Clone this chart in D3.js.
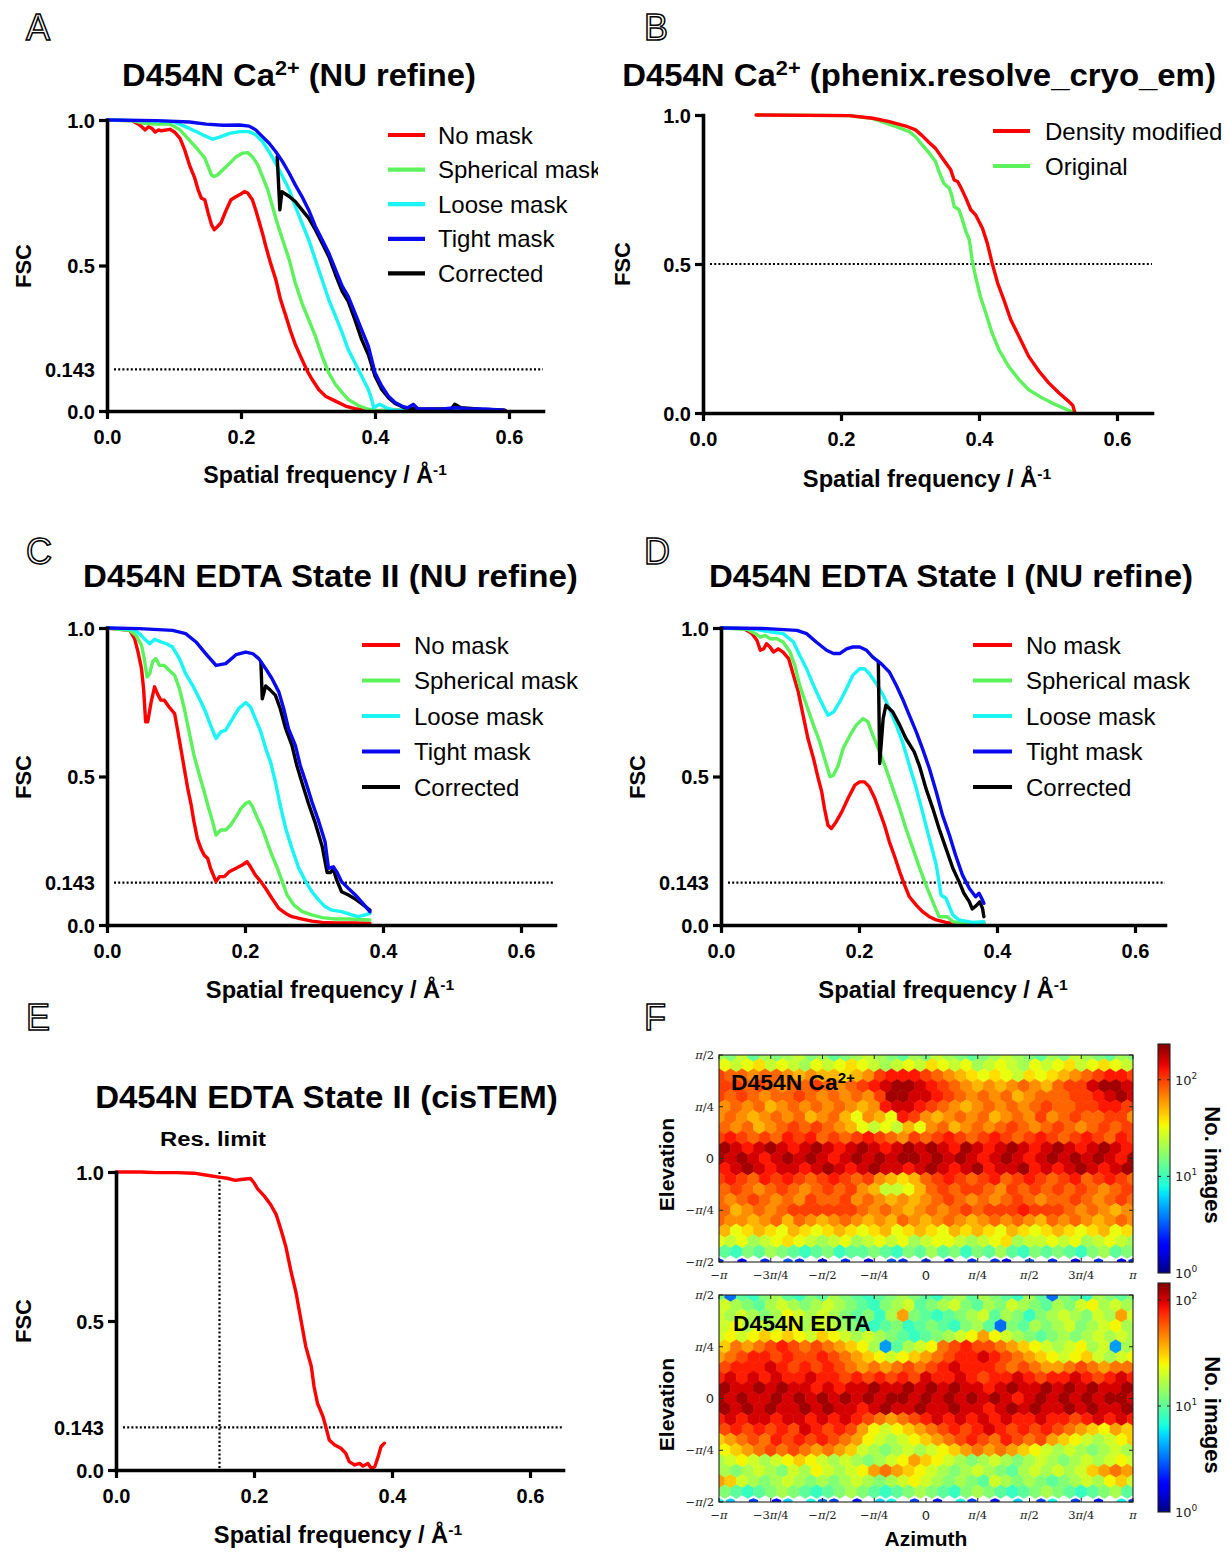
<!DOCTYPE html>
<html>
<head>
<meta charset="utf-8">
<script src="https://cdn.jsdelivr.net/npm/d3@7"></script>
<style>
  body { margin: 0; background: #fff; }
  svg { display: block; }
</style>
</head>
<body>
<svg id="fig" width="1229" height="1553"></svg>
<script>
// ---------- axis ticks and labels ----------
const freqTicks = [0, 0.2, 0.4, 0.6];
const freqTickText = ["0.0", "0.2", "0.4", "0.6"];
const fscLabelValues = [0, 0.143, 0.5, 1];
const fscLabelText = ["0.0", "0.143", "0.5", "1.0"];
const fscLabelValuesB = [0, 0.5, 1];
const fscLabelTextB = ["0.0", "0.5", "1.0"];
const maskNames = ["No mask", "Spherical mask", "Loose mask", "Tight mask", "Corrected"];
const dmNames = ["Density modified", "Original"];

// ---------- A: D454N Ca2+ (NU refine) ----------
const caNoMask = [[0,1],[0.037,0.998],[0.049,0.983],[0.057,0.966],[0.062,0.977],[0.067,0.971],[0.072,0.958],[0.077,0.966],[0.081,0.963],[0.094,0.968],[0.101,0.958],[0.109,0.937],[0.116,0.897],[0.123,0.846],[0.131,0.800],[0.136,0.760],[0.141,0.731],[0.146,0.726],[0.151,0.680],[0.156,0.640],[0.160,0.623],[0.165,0.634],[0.170,0.646],[0.178,0.691],[0.185,0.726],[0.193,0.737],[0.200,0.746],[0.205,0.754],[0.210,0.749],[0.217,0.726],[0.222,0.691],[0.227,0.651],[0.232,0.611],[0.237,0.566],[0.244,0.509],[0.252,0.451],[0.259,0.383],[0.267,0.326],[0.274,0.274],[0.281,0.229],[0.291,0.177],[0.299,0.137],[0.306,0.109],[0.316,0.074],[0.326,0.051],[0.341,0.034],[0.356,0.017],[0.370,0.008],[0.385,0.003],[0.400,0.001],[0.43,0.003],[0.46,0.001],[0.49,0.004],[0.52,0.002],[0.55,0.003],[0.575,0.001],[0.595,0.002]];
const caSpherical = [[0,1],[0.040,0.997],[0.054,0.989],[0.074,0.986],[0.094,0.986],[0.109,0.966],[0.123,0.931],[0.136,0.897],[0.146,0.869],[0.151,0.840],[0.156,0.811],[0.160,0.806],[0.165,0.811],[0.173,0.829],[0.183,0.851],[0.193,0.874],[0.202,0.886],[0.210,0.888],[0.217,0.874],[0.225,0.846],[0.232,0.806],[0.240,0.760],[0.247,0.703],[0.254,0.646],[0.262,0.589],[0.272,0.520],[0.281,0.440],[0.291,0.371],[0.301,0.314],[0.311,0.257],[0.321,0.189],[0.331,0.131],[0.341,0.091],[0.351,0.063],[0.360,0.040],[0.375,0.019],[0.390,0.006],[0.405,0.001],[0.44,0.004],[0.47,0.002],[0.50,0.005],[0.53,0.002],[0.56,0.003]];
const caLoose = [[0,1],[0.049,0.998],[0.099,0.994],[0.123,0.971],[0.143,0.949],[0.158,0.934],[0.168,0.941],[0.183,0.954],[0.198,0.960],[0.212,0.960],[0.222,0.949],[0.232,0.926],[0.242,0.891],[0.252,0.851],[0.262,0.806],[0.272,0.760],[0.281,0.703],[0.291,0.646],[0.301,0.589],[0.311,0.520],[0.321,0.451],[0.331,0.383],[0.341,0.326],[0.351,0.269],[0.360,0.211],[0.370,0.166],[0.380,0.120],[0.390,0.074],[0.395,0.040],[0.398,0.011],[0.407,0.023],[0.417,0.011],[0.430,0.002],[0.46,0.006],[0.49,0.002],[0.52,0.007],[0.55,0.002],[0.58,0.004]];
const caTight = [[0,1],[0.074,0.998],[0.123,0.993],[0.148,0.986],[0.173,0.982],[0.198,0.983],[0.212,0.979],[0.222,0.966],[0.232,0.943],[0.242,0.920],[0.252,0.891],[0.262,0.857],[0.272,0.817],[0.281,0.777],[0.291,0.737],[0.301,0.691],[0.311,0.634],[0.321,0.589],[0.331,0.543],[0.341,0.486],[0.351,0.429],[0.360,0.394],[0.370,0.337],[0.380,0.280],[0.390,0.223],[0.395,0.177],[0.400,0.131],[0.410,0.086],[0.420,0.051],[0.430,0.029],[0.440,0.017],[0.449,0.011],[0.457,0.023],[0.464,0.008],[0.499,0.006],[0.519,0.011],[0.538,0.008],[0.568,0.006],[0.593,0.003]];
const caCorrected = [[0.254,0.874],[0.258,0.691],[0.261,0.754],[0.272,0.737],[0.281,0.720],[0.291,0.691],[0.301,0.663],[0.311,0.623],[0.321,0.577],[0.331,0.531],[0.341,0.469],[0.351,0.411],[0.360,0.377],[0.370,0.314],[0.380,0.246],[0.390,0.194],[0.400,0.120],[0.410,0.074],[0.420,0.046],[0.430,0.026],[0.444,0.011],[0.469,0.006],[0.514,0.008],[0.519,0.023],[0.528,0.011],[0.558,0.006],[0.593,0.003]];

// ---------- B: phenix.resolve_cryo_em ----------
const dmDensityModified = [[0.077,1.0],[0.212,0.998],[0.246,0.989],[0.270,0.978],[0.294,0.963],[0.308,0.950],[0.318,0.930],[0.328,0.907],[0.337,0.888],[0.347,0.855],[0.354,0.832],[0.359,0.816],[0.364,0.782],[0.369,0.777],[0.373,0.760],[0.381,0.721],[0.388,0.682],[0.395,0.665],[0.405,0.620],[0.412,0.570],[0.419,0.503],[0.427,0.436],[0.436,0.380],[0.446,0.313],[0.458,0.257],[0.472,0.190],[0.487,0.140],[0.501,0.101],[0.516,0.067],[0.530,0.039],[0.536,0.025],[0.539,0.0]];
const dmOriginal = [[0.077,1.0],[0.212,0.998],[0.246,0.988],[0.260,0.977],[0.280,0.961],[0.299,0.944],[0.308,0.927],[0.318,0.899],[0.328,0.872],[0.337,0.844],[0.342,0.810],[0.349,0.771],[0.357,0.754],[0.361,0.726],[0.364,0.693],[0.371,0.682],[0.376,0.648],[0.381,0.609],[0.386,0.581],[0.390,0.514],[0.395,0.458],[0.402,0.391],[0.410,0.335],[0.419,0.268],[0.429,0.212],[0.443,0.156],[0.458,0.112],[0.472,0.078],[0.492,0.050],[0.511,0.028],[0.533,0.006],[0.539,0.0]];

// ---------- C: EDTA State II (NU refine) ----------
const s2NoMask = [[0,1],[0.033,0.992],[0.040,0.964],[0.045,0.919],[0.050,0.863],[0.053,0.796],[0.056,0.684],[0.059,0.684],[0.064,0.751],[0.069,0.802],[0.074,0.774],[0.078,0.757],[0.083,0.757],[0.090,0.734],[0.098,0.712],[0.102,0.661],[0.107,0.594],[0.112,0.527],[0.117,0.460],[0.122,0.404],[0.126,0.348],[0.131,0.291],[0.136,0.258],[0.141,0.235],[0.146,0.224],[0.150,0.191],[0.158,0.146],[0.163,0.163],[0.170,0.163],[0.177,0.179],[0.187,0.191],[0.196,0.202],[0.203,0.213],[0.208,0.196],[0.215,0.168],[0.223,0.146],[0.230,0.123],[0.239,0.090],[0.249,0.056],[0.259,0.039],[0.268,0.028],[0.283,0.020],[0.297,0.013],[0.312,0.009],[0.331,0.007],[0.360,0.007],[0.381,0.006]];
const s2Spherical = [[0,1],[0.033,0.992],[0.042,0.975],[0.050,0.942],[0.054,0.897],[0.058,0.835],[0.062,0.846],[0.066,0.886],[0.071,0.897],[0.076,0.874],[0.083,0.874],[0.090,0.858],[0.098,0.841],[0.105,0.796],[0.112,0.729],[0.119,0.650],[0.126,0.572],[0.134,0.504],[0.141,0.448],[0.146,0.404],[0.153,0.348],[0.158,0.303],[0.165,0.320],[0.172,0.320],[0.179,0.336],[0.187,0.364],[0.194,0.392],[0.201,0.409],[0.206,0.415],[0.211,0.398],[0.218,0.359],[0.225,0.325],[0.232,0.280],[0.239,0.235],[0.247,0.191],[0.254,0.146],[0.261,0.101],[0.271,0.067],[0.283,0.045],[0.297,0.034],[0.312,0.025],[0.331,0.020],[0.350,0.020],[0.381,0.017]];
const s2Loose = [[0,1],[0.038,0.996],[0.047,0.981],[0.054,0.964],[0.062,0.947],[0.069,0.962],[0.076,0.955],[0.086,0.947],[0.095,0.936],[0.105,0.897],[0.114,0.846],[0.124,0.807],[0.134,0.762],[0.143,0.717],[0.150,0.673],[0.158,0.628],[0.165,0.650],[0.172,0.656],[0.182,0.695],[0.191,0.729],[0.201,0.749],[0.208,0.734],[0.215,0.695],[0.223,0.650],[0.230,0.594],[0.237,0.549],[0.244,0.482],[0.251,0.404],[0.259,0.325],[0.268,0.258],[0.278,0.191],[0.288,0.146],[0.297,0.112],[0.307,0.084],[0.316,0.062],[0.326,0.050],[0.340,0.045],[0.355,0.034],[0.364,0.028],[0.374,0.034],[0.381,0.039]];
const s2Tight = [[0,1],[0.047,0.998],[0.095,0.992],[0.114,0.981],[0.129,0.953],[0.143,0.914],[0.158,0.874],[0.172,0.880],[0.187,0.910],[0.201,0.919],[0.211,0.914],[0.220,0.897],[0.230,0.863],[0.239,0.830],[0.249,0.785],[0.256,0.729],[0.263,0.661],[0.273,0.605],[0.280,0.538],[0.288,0.482],[0.297,0.415],[0.307,0.348],[0.316,0.280],[0.321,0.191],[0.328,0.196],[0.333,0.179],[0.340,0.146],[0.350,0.123],[0.360,0.101],[0.369,0.078],[0.381,0.045]];
const s2Corrected = [[0.223,0.886],[0.225,0.762],[0.230,0.805],[0.237,0.790],[0.244,0.774],[0.251,0.729],[0.259,0.661],[0.268,0.605],[0.275,0.538],[0.283,0.476],[0.292,0.409],[0.302,0.342],[0.312,0.263],[0.319,0.177],[0.324,0.177],[0.328,0.188],[0.333,0.151],[0.340,0.112],[0.350,0.101],[0.360,0.087],[0.369,0.072],[0.381,0.050]];

// ---------- D: EDTA State I (NU refine) ----------
const s1NoMask = [[0,1],[0.033,0.998],[0.045,0.981],[0.052,0.959],[0.057,0.925],[0.062,0.930],[0.066,0.947],[0.071,0.936],[0.076,0.919],[0.083,0.930],[0.090,0.919],[0.098,0.897],[0.105,0.841],[0.112,0.785],[0.119,0.706],[0.126,0.628],[0.134,0.561],[0.141,0.493],[0.146,0.448],[0.150,0.392],[0.155,0.336],[0.160,0.325],[0.167,0.348],[0.175,0.381],[0.184,0.426],[0.194,0.471],[0.201,0.482],[0.208,0.482],[0.215,0.465],[0.223,0.426],[0.230,0.381],[0.237,0.336],[0.244,0.280],[0.251,0.235],[0.259,0.179],[0.266,0.135],[0.273,0.095],[0.283,0.067],[0.292,0.045],[0.302,0.028],[0.312,0.017],[0.326,0.009],[0.345,0.002],[0.364,0.002],[0.381,0.006]];
const s1Spherical = [[0,1],[0.038,0.996],[0.050,0.981],[0.057,0.969],[0.064,0.975],[0.071,0.964],[0.081,0.964],[0.090,0.953],[0.100,0.919],[0.107,0.874],[0.114,0.807],[0.124,0.740],[0.134,0.673],[0.143,0.617],[0.150,0.561],[0.158,0.499],[0.163,0.504],[0.170,0.538],[0.177,0.594],[0.187,0.639],[0.196,0.673],[0.206,0.695],[0.213,0.684],[0.220,0.639],[0.230,0.583],[0.239,0.527],[0.249,0.460],[0.259,0.392],[0.268,0.325],[0.278,0.258],[0.288,0.191],[0.297,0.135],[0.307,0.078],[0.316,0.028],[0.328,0.028],[0.336,0.011],[0.355,0.006],[0.381,0.006]];
const s1Loose = [[0,1],[0.042,0.998],[0.066,0.989],[0.090,0.981],[0.105,0.953],[0.114,0.908],[0.124,0.863],[0.134,0.807],[0.143,0.762],[0.150,0.729],[0.155,0.706],[0.163,0.717],[0.172,0.751],[0.182,0.796],[0.191,0.841],[0.201,0.863],[0.208,0.863],[0.215,0.846],[0.225,0.813],[0.235,0.774],[0.244,0.729],[0.254,0.673],[0.263,0.617],[0.273,0.538],[0.283,0.460],[0.292,0.381],[0.302,0.291],[0.312,0.202],[0.319,0.101],[0.326,0.090],[0.336,0.034],[0.345,0.017],[0.364,0.009],[0.381,0.011]];
const s1Tight = [[0,1],[0.066,0.998],[0.110,0.992],[0.124,0.981],[0.138,0.953],[0.153,0.925],[0.163,0.914],[0.172,0.914],[0.182,0.930],[0.191,0.936],[0.201,0.936],[0.211,0.925],[0.220,0.902],[0.232,0.880],[0.244,0.852],[0.254,0.807],[0.263,0.762],[0.273,0.706],[0.283,0.650],[0.292,0.594],[0.302,0.527],[0.312,0.448],[0.321,0.370],[0.331,0.303],[0.340,0.235],[0.350,0.168],[0.360,0.123],[0.369,0.095],[0.374,0.107],[0.379,0.084],[0.381,0.073]];
const s1Corrected = [[0.228,0.886],[0.230,0.544],[0.235,0.695],[0.239,0.740],[0.249,0.717],[0.259,0.673],[0.268,0.628],[0.280,0.583],[0.288,0.533],[0.297,0.460],[0.307,0.392],[0.316,0.325],[0.326,0.258],[0.336,0.191],[0.345,0.146],[0.352,0.107],[0.360,0.078],[0.364,0.054],[0.370,0.065],[0.375,0.078],[0.379,0.056],[0.381,0.028]];

// ---------- E: EDTA State II (cisTEM) ----------
const cisFSC = [[0,1],[0.035,1.0],[0.059,0.998],[0.088,0.998],[0.113,0.996],[0.132,0.989],[0.149,0.983],[0.161,0.979],[0.173,0.972],[0.181,0.975],[0.195,0.978],[0.200,0.964],[0.205,0.944],[0.215,0.919],[0.224,0.891],[0.232,0.858],[0.239,0.807],[0.246,0.751],[0.253,0.673],[0.261,0.594],[0.268,0.504],[0.275,0.415],[0.283,0.348],[0.287,0.280],[0.292,0.224],[0.300,0.179],[0.304,0.146],[0.309,0.101],[0.317,0.084],[0.326,0.073],[0.333,0.056],[0.338,0.028],[0.346,0.017],[0.353,0.022],[0.358,0.013],[0.365,0.022],[0.370,0.006],[0.375,0.011],[0.380,0.045],[0.384,0.078],[0.389,0.090]];
const resLimit = 0.15;

// ---------- F: angular distributions ----------
// One string per hexagon row (top = +pi/2 elevation, bottom = -pi/2), 37 hexagons
// per row, written in blocks of 10 + 10 + 10 + 7.
// Each character 'a' + k stands for 10^(k/10) images; '.' is an empty bin.
const caHexRows = [
  "nmolnmnomn" + "lmnonmlnmo" + "nmlmnonmln" + "monmlnm",
  "qpopqoponp" + "opqponopoq" + "popnoponpo" + "pqopqpo",
  "uttsttsrsr" + "rqrsuvvvut" + "srqpqpoqpq" + "rstuvvu",
  "uuututsttu" + "tstuvwxxwv" + "utsrsrstsr" + "tuuwxxw",
  "ututsttuts" + "tstsuxxwwv" + "utststrstt" + "tuuvwxw",
  "tststrstst" + "stsrsvwwvu" + "tsrstststu" + "ttuuvvu",
  "stsrststrs" + "trpsrpvusr" + "ststrstsus" + "tuttuus",
  "utstrstutu" + "tsrpoporps" + "trststutst" + "utstutu",
  "uvututvuvt" + "utuvutsutu" + "vutuvutuvu" + "tuvutvu",
  "wxwvwxwvwx" + "wvwxwvwxwx" + "wvxwvwxwvw" + "xwvwxwv",
  "xwxwvwxwxw" + "vwxwxwxxwx" + "wxwvwxwvwx" + "wxwxwvx",
  "wvwxwvwwvw" + "xwvwxwwvwx" + "wvwxvwwxvw" + "vwxwvwx",
  "uvutvuvutu" + "vutusrqrtu" + "vutuvtuvut" + "uvtuvut",
  "ututstutst" + "utusrooprt" + "utuutsutut" + "ututstu",
  "tstutstsut" + "tustsrsrst" + "utststutst" + "tutstut",
  "strststuuu" + "uuutstsrst" + "stutuuuvuu" + "utstsrs",
  "tssrstrtsr" + "stsrsrtsrs" + "tsrststsrt" + "stsrsts",
  "qrpqrqprqp" + "qrqpqrpqrq" + "prqrqprqpq" + "rqpqrpq",
  "popnopqpon" + "opnopopnop" + "ponopqnoop" + "opnopon",
  "mlkmlnmlkl" + "mkllmlkmln" + "lmkmlnlkml" + "mlkmnlm",
  "e.d.e.fe.d" + ".e.d.fe.e." + "d.e.ed.f.e" + ".d.e.de"
];
const edtaHexRows = [
  "lfkjlmkjlk" + "mlkjklmlkj" + "lmkmlkjmkf" + "lkjmlkl",
  "mnmlkmnmlm" + "nmlkjlmnkl" + "mnlkmlnmlk" + "mlnomnm",
  "nmnmlmonmn" + "mlkljmqlkj" + "klmnkmljlm" + "nmlnmqn",
  "mnomnmnomn" + "nmlkjkljkl" + "kjlmkflkml" + "mnlmnom",
  "nonopoponp" + "onmnmlkjkl" + "mnoqonmlkl" + "mlmnmnm",
  "oprqrstsrs" + "rqpomgkmno" + "rstssrqpon" + "mnomngm",
  "qrsttstsst" + "srqponopqr" + "sttutsrqpo" + "nopnmno",
  "rstttutsts" + "tsrqrqrsrs" + "tutttsrsrq" + "qrsrqrr",
  "tutututtut" + "tstststsut" + "tutsttutst" + "tutstut",
  "uvuuvuvuut" + "utuuvuuvuv" + "uvuutuvuuv" + "uvuvuuv",
  "vuvuuvuvuv" + "uvuvuvvuvu" + "vuvuvutuvu" + "vuvuvvu",
  "uvuvuvuuvu" + "vuutuvuuvu" + "uvuutuvuvu" + "uvuvuuv",
  "tutuutuutu" + "tutsrqrstu" + "tutututtut" + "tstutut",
  "rstststsut" + "stsqonopqr" + "ststutstst" + "srqpoqp",
  "pqrsrtstst" + "srqonmnopq" + "rstsrtsrsq" + "ponmnop",
  "nopqrsrsrq" + "rqpnmlmnmn" + "opqrqrqpon" + "mnmlmnm",
  "mnonmnopon" + "mnmlmnoqpo" + "nmlmnmlmnm" + "lmnmnon",
  "nmlmnmlnmo" + "nmnoqrqpon" + "mlmnmlkmnm" + "nmnpqrq",
  "qpnmlmnmlm" + "lmnmlmnonm" + "lmlknmlmlk" + "lmnmopn",
  "mlkjklmlkj" + "klmlkjklml" + "kjlmlkjklm" + "lkjklmk",
  "ih.e.dh.if" + "e.d.hi.e.d" + ".ie.d.h.ei" + ".e.d.ie"
];
const colorbarTicks = [1, 10, 100];
const azTicks = [-4, -3, -2, -1, 0, 1, 2, 3, 4];          // multiples of pi/4
const azTickText = ["−π", "−3π/4", "−π/2", "−π/4", "0", "π/4", "π/2", "3π/4", "π"];
const elTicks = [2, 1, 0, -1, -2];                           // multiples of pi/4
const elTickText = ["π/2", "π/4", "0", "−π/4", "−π/2"];

// ---------- drawing ----------
const FONT = "'Liberation Sans', Arial, Helvetica, sans-serif";
const svg = d3.select("#fig");
const maskColors = ["#ff0000", "#5cf25c", "#19f5f5", "#0a0af0", "#000000"];
const drawOrder = [0, 1, 2, 4, 3];

function jet(t) {
  t = Math.max(0, Math.min(1, t));
  const seg = pts => {
    for (let i = 1; i < pts.length; i++) {
      if (t <= pts[i][0]) {
        const [x0, y0] = pts[i - 1], [x1, y1] = pts[i];
        return y0 + (y1 - y0) * (t - x0) / (x1 - x0);
      }
    }
    return pts[pts.length - 1][1];
  };
  const r = seg([[0, 0], [0.35, 0], [0.66, 1], [0.89, 1], [1, 0.5]]);
  const g = seg([[0, 0], [0.125, 0], [0.375, 1], [0.64, 1], [0.91, 0], [1, 0]]);
  const b = seg([[0, 0.5], [0.11, 1], [0.34, 1], [0.65, 0], [1, 0]]);
  return d3.rgb(r * 255, g * 255, b * 255).formatHex();
}

// text with optional superscript parts
function richText(parent, x, y, parts, size, weight) {
  const t = parent.append("text")
    .attr("x", x).attr("y", y)
    .attr("font-family", FONT).attr("font-size", size)
    .attr("font-weight", weight || "bold");
  let shift = 0;
  parts.forEach(p => {
    const ts = t.append("tspan").text(p.t);
    if (p.sup) {
      ts.attr("font-size", size * 0.66).attr("dy", -size * 0.33);
      shift = size * 0.33;
    } else if (shift) {
      ts.attr("dy", shift);
      shift = 0;
    }
  });
  return t;
}

// horizontally stretch/compress a text element about its anchor x
function fitWidth(sel, target, anchorX) {
  const w = sel.node().getBBox().width;
  if (w > 0) {
    const s = target / w;
    sel.attr("transform", `translate(${anchorX},0) scale(${s},1) translate(${-anchorX},0)`);
  }
}

function panelLetter(ch, x, y) {
  svg.append("text").attr("x", x).attr("y", y).text(ch)
    .attr("font-family", FONT).attr("font-size", 36)
    .attr("fill", "#fff").attr("stroke", "#000").attr("stroke-width", 1.5);
}

function fscPanel(cfg) {
  const g = svg.append("g");
  if (cfg.clipRight) {
    const id = "clip" + cfg.id;
    svg.append("clipPath").attr("id", id).append("rect")
      .attr("x", 0).attr("y", 0).attr("width", cfg.clipRight).attr("height", 1553);
    g.attr("clip-path", `url(#${id})`);
  }
  const xMax = (cfg.axisEnd - cfg.left) / cfg.unit;
  const x = d3.scaleLinear().domain([0, xMax]).range([cfg.left, cfg.axisEnd]);
  const y = d3.scaleLinear().domain([0, 1]).range([cfg.bottom, cfg.top]);

  // threshold lines
  const dots = g.append("g").attr("stroke", "#000").attr("stroke-width", 2.2)
    .attr("stroke-dasharray", "2,2.2").attr("fill", "none");
  dots.append("line").attr("x1", x(0) + 7).attr("x2", cfg.axisEnd)
    .attr("y1", y(cfg.threshold)).attr("y2", y(cfg.threshold));
  if (cfg.resLimit !== undefined) {
    dots.append("line").attr("x1", x(cfg.resLimit)).attr("x2", x(cfg.resLimit))
      .attr("y1", y(1)).attr("y2", y(0));
  }

  // curves
  const line = d3.line().x(d => x(d[0])).y(d => y(d[1]));
  cfg.order.forEach(i => {
    g.append("path").datum(cfg.series[i]).attr("d", line)
      .attr("fill", "none").attr("stroke", cfg.colors[i])
      .attr("stroke-width", 3.4).attr("stroke-linejoin", "round").attr("stroke-linecap", "round");
  });

  // axes
  const styleAxis = a => {
    a.attr("font-family", FONT).attr("font-size", 20).attr("font-weight", "bold");
    a.select(".domain").attr("stroke-width", 3.6).attr("stroke-linecap", "square");
    a.selectAll(".tick line").attr("stroke-width", 3.2);
    a.selectAll(".tick text").attr("fill", "#000");
  };
  const xa = g.append("g").attr("transform", `translate(0,${cfg.bottom})`)
    .call(d3.axisBottom(x).tickValues(freqTicks).tickSize(8).tickSizeOuter(0).tickPadding(11)
      .tickFormat((d, i) => freqTickText[i]));
  styleAxis(xa);
  const ya = g.append("g").attr("transform", `translate(${cfg.left},0)`)
    .call(d3.axisLeft(y).tickValues(cfg.yVals).tickSize(8).tickSizeOuter(0).tickPadding(4)
      .tickFormat((d, i) => cfg.yText[i]));
  styleAxis(ya);
  ya.selectAll(".tick").filter(d => d !== 0 && d !== 0.5 && d !== 1).select("line").remove();
  ya.selectAll(".tick text").attr("dy", "0.36em");

  // axis titles
  g.append("text").text("FSC")
    .attr("transform", `translate(${cfg.ylab[0]},${cfg.ylab[1]}) rotate(-90)`)
    .attr("text-anchor", "middle").attr("dy", "0.36em")
    .attr("font-family", FONT).attr("font-size", 22).attr("font-weight", "bold");
  const xl = richText(g, cfg.xlab[0], cfg.xlab[2],
    [{ t: "Spatial frequency / Å" }, { t: "-1", sup: true }], 23, "bold")
    .attr("text-anchor", "middle");
  fitWidth(xl, cfg.xlab[1], cfg.xlab[0]);

  // title
  const tt = richText(g, cfg.title[0], cfg.title[2], cfg.titleParts, 32, "bold")
    .attr("text-anchor", "middle");
  fitWidth(tt, cfg.title[1], cfg.title[0]);

  // legend
  if (cfg.legend) {
    const L = cfg.legend;
    cfg.legendNames.forEach((name, k) => {
      const i = cfg.legendIndex[k];
      const yy = L.y0 + k * L.dy;
      g.append("line").attr("x1", L.x1).attr("x2", L.x2).attr("y1", yy).attr("y2", yy)
        .attr("stroke", cfg.colors[i]).attr("stroke-width", 4.2);
      g.append("text").attr("x", L.tx).attr("y", yy).attr("dy", "0.36em").text(name)
        .attr("font-family", FONT).attr("font-size", 24);
    });
  }
  return { x, y, g };
}

// ----- A -----
panelLetter("A", 26, 40);
fscPanel({
  id: "A", left: 107, unit: 670, axisEnd: 543, top: 120, bottom: 411, clipRight: 598,
  threshold: 0.143, yVals: fscLabelValues, yText: fscLabelText,
  series: [caNoMask, caSpherical, caLoose, caTight, caCorrected], colors: maskColors, order: drawOrder,
  legendNames: maskNames, legendIndex: [0, 1, 2, 3, 4],
  legend: { x1: 388, x2: 425, tx: 438, y0: 135, dy: 34.6 },
  titleParts: [{ t: "D454N Ca" }, { t: "2+", sup: true }, { t: " (NU refine)" }],
  title: [299, 354, 86], xlab: [325, 244, 483], ylab: [23, 266]
});

// ----- B -----
panelLetter("B", 644, 40);
fscPanel({
  id: "B", left: 703, unit: 690, axisEnd: 1152, top: 115, bottom: 413,
  threshold: 0.5, yVals: fscLabelValuesB, yText: fscLabelTextB,
  series: [dmDensityModified, dmOriginal], colors: ["#ff0000", "#5cf25c"], order: [1, 0],
  legendNames: dmNames, legendIndex: [0, 1],
  legend: { x1: 993, x2: 1030, tx: 1045, y0: 131, dy: 35 },
  titleParts: [{ t: "D454N Ca" }, { t: "2+", sup: true }, { t: " (phenix.resolve_cryo_em)" }],
  title: [919, 594, 86], xlab: [927, 249, 487], ylab: [622, 264]
});

// ----- C -----
panelLetter("C", 26, 564);
fscPanel({
  id: "C", left: 107, unit: 690, axisEnd: 555, top: 628, bottom: 925,
  threshold: 0.143, yVals: fscLabelValues, yText: fscLabelText,
  series: [s2NoMask, s2Spherical, s2Loose, s2Tight, s2Corrected], colors: maskColors, order: drawOrder,
  legendNames: maskNames, legendIndex: [0, 1, 2, 3, 4],
  legend: { x1: 362, x2: 400, tx: 414, y0: 645, dy: 35.5 },
  titleParts: [{ t: "D454N EDTA State II (NU refine)" }],
  title: [330.5, 495, 587], xlab: [330, 249, 998], ylab: [23, 777]
});

// ----- D -----
panelLetter("D", 644, 564);
fscPanel({
  id: "D", left: 721, unit: 690, axisEnd: 1165, top: 628, bottom: 925,
  threshold: 0.143, yVals: fscLabelValues, yText: fscLabelText,
  series: [s1NoMask, s1Spherical, s1Loose, s1Tight, s1Corrected], colors: maskColors, order: drawOrder,
  legendNames: maskNames, legendIndex: [0, 1, 2, 3, 4],
  legend: { x1: 973, x2: 1012, tx: 1026, y0: 645, dy: 35.5 },
  titleParts: [{ t: "D454N EDTA State I (NU refine)" }],
  title: [951, 484, 587], xlab: [943, 250, 998], ylab: [637, 777]
});

// ----- E -----
panelLetter("E", 26, 1030);
fscPanel({
  id: "E", left: 116, unit: 690, axisEnd: 563, top: 1172, bottom: 1470,
  threshold: 0.143, resLimit: resLimit, yVals: fscLabelValues, yText: fscLabelText,
  series: [cisFSC], colors: ["#ff0000"], order: [0],
  titleParts: [{ t: "D454N EDTA State II (cisTEM)" }],
  title: [326.5, 463, 1108], xlab: [338, 249, 1543], ylab: [23, 1321]
});
const rl = svg.append("text").attr("x", 213).attr("y", 1146).attr("text-anchor", "middle")
  .text("Res. limit").attr("font-family", FONT).attr("font-size", 21).attr("font-weight", "bold");
fitWidth(rl, 106, 213);

// ----- F -----
panelLetter("F", 644, 1030);

function piLabel(sel, str) {
  const parts = str.split("π");
  sel.append("tspan").text(parts[0]);
  if (parts.length > 1) {
    sel.append("tspan").text("π").attr("font-style", "italic");
    sel.append("tspan").text(parts[1]);
  }
}

function hexMap(cfg) {
  const g = svg.append("g");
  const x = d3.scaleLinear().domain([-Math.PI, Math.PI]).range([cfg.left, cfg.right]);
  const y = d3.scaleLinear().domain([-Math.PI / 2, Math.PI / 2]).range([cfg.bottom, cfg.top]);
  const nRow = cfg.rows.length - 1;
  const nCol = cfg.rows[0].length - 1;
  const dAz = 2 * Math.PI / nCol, dEl = Math.PI / nRow;
  const halfW = (x(dAz) - x(0)) / 2;
  const R = (y(0) - y(dEl)) / 1.5;
  const vmax = Math.pow(10, cfg.logMax);
  const color = d3.scaleSequentialLog(jet).domain([1, vmax]);

  const cells = [];
  cfg.rows.forEach((row, r) => {
    for (let c = 0; c < row.length; c++) {
      const ch = row[c];
      if (ch === ".") continue;
      cells.push({
        az: -Math.PI + (c - (r % 2) * 0.5) * dAz,
        el: Math.PI / 2 - r * dEl,
        edge: r === nRow,
        count: Math.pow(10, (ch.charCodeAt(0) - 97) * 0.1)
      });
    }
  });

  const clipId = "hexclip" + cfg.id;
  svg.append("clipPath").attr("id", clipId).append("rect")
    .attr("x", cfg.left).attr("y", cfg.top)
    .attr("width", cfg.right - cfg.left).attr("height", cfg.bottom - cfg.top);
  const hexPath = (hw, r) => `M0,${-r}L${hw},${-r / 2}L${hw},${r / 2}L0,${r}L${-hw},${r / 2}L${-hw},${-r / 2}Z`;
  g.append("g").attr("clip-path", `url(#${clipId})`)
    .selectAll("path").data(cells).join("path")
    .attr("d", d => d.edge ? hexPath(halfW * 0.8, R * 0.55) : hexPath(halfW, R))
    .attr("transform", d => `translate(${x(d.az)},${y(d.el)})`)
    .attr("fill", d => color(d.count))
    .attr("stroke", d => color(d.count)).attr("stroke-width", d => d.edge ? 0 : 0.6);

  // frame and inward ticks
  g.append("rect").attr("x", cfg.left).attr("y", cfg.top)
    .attr("width", cfg.right - cfg.left).attr("height", cfg.bottom - cfg.top)
    .attr("fill", "none").attr("stroke", "#222").attr("stroke-width", 1.1);
  const tk = g.append("g").attr("stroke", "#222").attr("stroke-width", 1);
  azTicks.forEach(k => {
    const xx = x(k * Math.PI / 4);
    tk.append("line").attr("x1", xx).attr("x2", xx).attr("y1", cfg.bottom).attr("y2", cfg.bottom - 4);
    tk.append("line").attr("x1", xx).attr("x2", xx).attr("y1", cfg.top).attr("y2", cfg.top + 4);
  });
  elTicks.forEach(k => {
    const yy = y(k * Math.PI / 4);
    tk.append("line").attr("x1", cfg.left).attr("x2", cfg.left + 4).attr("y1", yy).attr("y2", yy);
    tk.append("line").attr("x1", cfg.right).attr("x2", cfg.right - 4).attr("y1", yy).attr("y2", yy);
  });

  // tick labels
  azTicks.forEach((k, i) => {
    const t = g.append("text").attr("x", x(k * Math.PI / 4)).attr("y", cfg.bottom + 17)
      .attr("text-anchor", "middle").attr("fill", "#222");
    if (azTickText[i] === "0") {
      t.text("0").attr("font-family", "'DejaVu Sans', sans-serif").attr("font-size", 13).attr("y", cfg.bottom + 18);
    } else {
      t.attr("font-family", "'DejaVu Serif', serif").attr("font-size", 11.5);
      piLabel(t, azTickText[i]);
    }
  });
  elTicks.forEach((k, i) => {
    const t = g.append("text").attr("x", cfg.left - 5).attr("y", y(k * Math.PI / 4))
      .attr("dy", "0.35em").attr("text-anchor", "end").attr("fill", "#222");
    if (elTickText[i] === "0") {
      t.text("0").attr("font-family", "'DejaVu Sans', sans-serif").attr("font-size", 13);
    } else {
      t.attr("font-family", "'DejaVu Serif', serif").attr("font-size", 11.5);
      piLabel(t, elTickText[i]);
    }
  });

  // inner label
  const lab = richText(g, cfg.label[0], cfg.label[1], cfg.labelParts, 22, "bold");
  fitWidth(lab, cfg.label[2], cfg.label[0]);

  // elevation title
  g.append("text").text("Elevation")
    .attr("transform", `translate(666,${(cfg.top + cfg.bottom) / 2 + 6}) rotate(-90)`)
    .attr("text-anchor", "middle").attr("dy", "0.36em")
    .attr("font-family", FONT).attr("font-size", 21).attr("font-weight", "bold");

  // colour bar
  const cb = cfg.cbar;
  const gradId = "grad" + cfg.id;
  const grad = svg.append("defs").append("linearGradient").attr("id", gradId)
    .attr("x1", 0).attr("y1", 1).attr("x2", 0).attr("y2", 0);
  d3.range(0, 1.0001, 0.02).forEach(t => grad.append("stop").attr("offset", t).attr("stop-color", jet(t)));
  g.append("rect").attr("x", cb.x).attr("y", cb.top).attr("width", cb.w).attr("height", cb.bottom - cb.top)
    .attr("fill", `url(#${gradId})`).attr("stroke", "#222").attr("stroke-width", 1.1);
  const cy = d3.scaleLog().domain([1, vmax]).range([cb.bottom, cb.top]);
  colorbarTicks.forEach((v, i) => {
    const yy = cy(v);
    if (i > 0) {
      g.append("line").attr("x1", cb.x + cb.w).attr("x2", cb.x + cb.w - 3).attr("y1", yy).attr("y2", yy)
        .attr("stroke", "#222").attr("stroke-width", 1);
      g.append("line").attr("x1", cb.x).attr("x2", cb.x + 3).attr("y1", yy).attr("y2", yy)
        .attr("stroke", "#222").attr("stroke-width", 1);
    }
    const t = g.append("text").attr("x", cb.x + cb.w + 5).attr("y", yy + 5)
      .attr("font-family", "'DejaVu Sans', sans-serif").attr("font-size", 13).attr("fill", "#222");
    t.append("tspan").text("10");
    t.append("tspan").text(String(Math.round(Math.log10(v)))).attr("font-size", 9).attr("dy", -6);
  });
  g.append("text").text("No. images")
    .attr("transform", `translate(1213,${cb.labelY}) rotate(90)`)
    .attr("text-anchor", "middle").attr("dy", "0.36em")
    .attr("font-family", FONT).attr("font-size", 22).attr("font-weight", "bold");
}

hexMap({
  id: "ca", left: 719, right: 1133, top: 1055, bottom: 1262, rows: caHexRows, logMax: 2.37,
  labelParts: [{ t: "D454N Ca" }, { t: "2+", sup: true }], label: [731, 1090, 124],
  cbar: { x: 1158, w: 12, top: 1044, bottom: 1273, labelY: 1165 }
});
hexMap({
  id: "edta", left: 719, right: 1133, top: 1295, bottom: 1502, rows: edtaHexRows, logMax: 2.16,
  labelParts: [{ t: "D454N EDTA" }], label: [733, 1331, 138],
  cbar: { x: 1158, w: 12, top: 1283, bottom: 1512, labelY: 1415 }
});

svg.append("text").attr("x", 926).attr("y", 1546).attr("text-anchor", "middle").text("Azimuth")
  .attr("font-family", FONT).attr("font-size", 21).attr("font-weight", "bold");
</script>
</body>
</html>
